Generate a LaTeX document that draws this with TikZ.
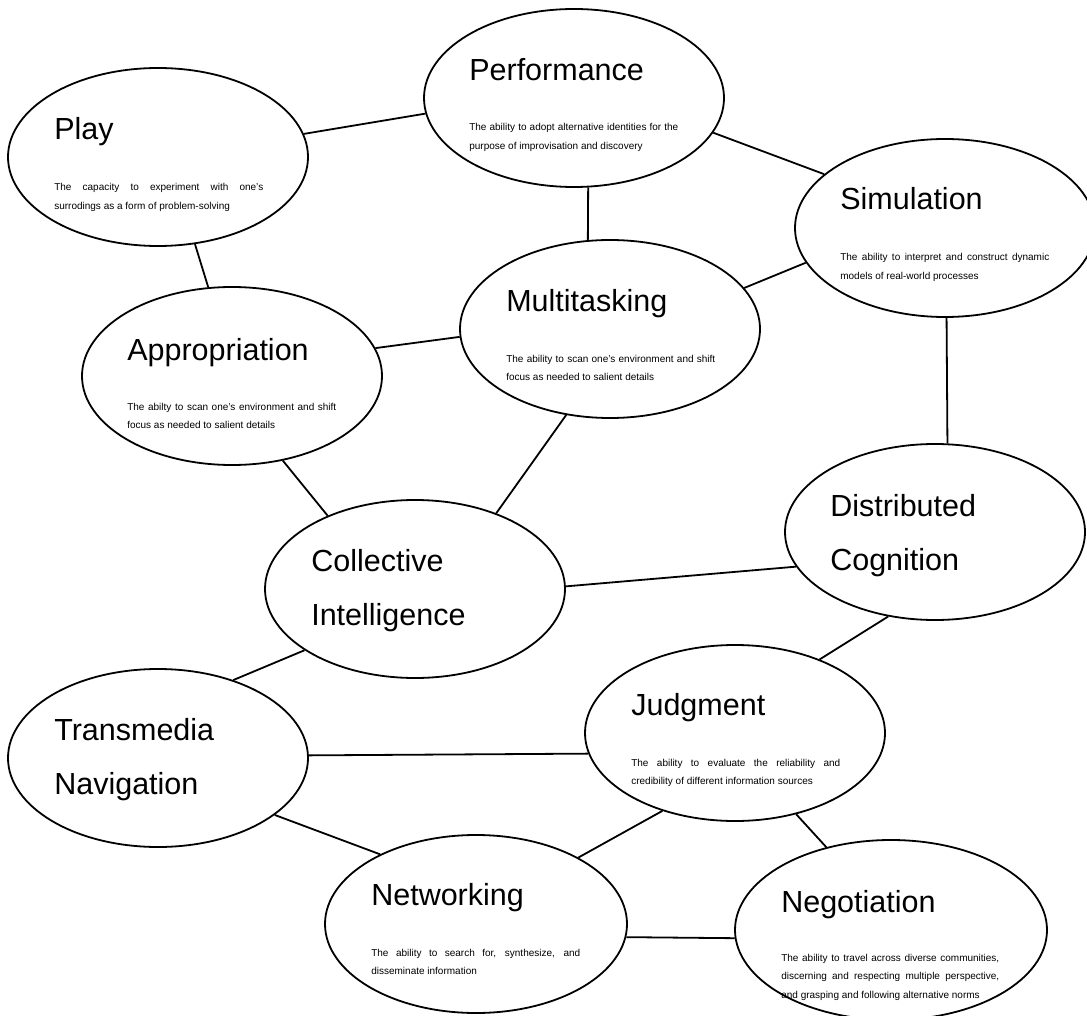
\documentclass[tikz,border=0pt]{standalone}
\usepackage{fontspec}
\setmainfont{Liberation Sans}
\usetikzlibrary{shapes,positioning}

\begin{document}
\begin{tikzpicture}[x=1pt, y=-1pt,
    skill/.style={ellipse, draw, line width=1.8pt, minimum width=300pt, minimum height=178pt, inner sep=0pt},
    head/.style={anchor=base west, inner sep=0pt, align=left, font=\fontsize{30.5}{54}\selectfont},
    blurb/.style={anchor=base west, inner sep=0pt, text width=209pt, align=justify, font=\fontsize{10}{18.5}\selectfont},
    link/.style={line width=1.8pt}]

    \useasboundingbox (0,0) rectangle (1087,1016);

    % Ellipses, one per skill
    \node[skill] (play) at (158,157) {};
    \node[skill] (perf) at (574,98) {};
    \node[skill] (sim) at (945,228) {};
    \node[skill] (appr) at (232,376) {};
    \node[skill] (multi) at (610,329) {};
    \node[skill, minimum height=176pt] (dist) at (935,532) {};
    \node[skill] (coll) at (415,589) {};
    \node[skill] (trans) at (158,758) {};
    \node[skill, minimum height=176pt] (judg) at (735,733) {};
    \node[skill, minimum width=302pt] (net) at (476,924) {};
    \node[skill, minimum width=312pt, minimum height=180pt] (nego) at (891,930) {};

    % Play
    \node[head] (play-h) at ([shift={(47,-17)}]play.west) {Play};
    \node[blurb] (play-d) at ([shift={(47,34)}]play.west) {The capacity to experiment with one's\linebreak surrodings as a form of problem-solving};

    % Performance
    \node[head] (perf-h) at ([shift={(46,-17)}]perf.west) {Performance};
    \node[blurb] (perf-d) at ([shift={(46,33)}]perf.west) {The ability to adopt alternative identities for the\linebreak purpose of improvisation and discovery};

    % Simulation
    \node[head] (sim-h) at ([shift={(46,-18)}]sim.west) {Simulation};
    \node[blurb] (sim-d) at ([shift={(46,33)}]sim.west) {The ability to interpret and construct dynamic\linebreak models of real-world processes};

    % Appropriation
    \node[head] (appr-h) at ([shift={(46,-16)}]appr.west) {Appropriation};
    \node[blurb] (appr-d) at ([shift={(46,34)}]appr.west) {The abilty to scan one's environment and shift\linebreak focus as needed to salient details};

    % Multitasking
    \node[head] (multi-h) at ([shift={(47,-17)}]multi.west) {Multitasking};
    \node[blurb] (multi-d) at ([shift={(47,33)}]multi.west) {The ability to scan one's environment and shift\linebreak focus as needed to salient details};

    % Two-line titles sit on the baseline of their second line
    % Distributed Cognition
    \node[head] (dist-h) at ([shift={(46,38)}]dist.west) {Distributed\\Cognition};

    % Collective Intelligence
    \node[head] (coll-h) at ([shift={(47,36)}]coll.west) {Collective\\Intelligence};

    % Transmedia Navigation
    \node[head] (trans-h) at ([shift={(47,36)}]trans.west) {Transmedia\\Navigation};

    % Judgment
    \node[head] (judg-h) at ([shift={(47,-18)}]judg.west) {Judgment};
    \node[blurb] (judg-d) at ([shift={(47,33)}]judg.west) {The ability to evaluate the reliability and\linebreak credibility of different information sources};

    % Networking
    \node[head] (net-h) at ([shift={(47,-19)}]net.west) {Networking};
    \node[blurb] (net-d) at ([shift={(47,32)}]net.west) {The ability to search for, synthesize, and\linebreak disseminate information};

    % Negotiation
    \node[head] (nego-h) at ([shift={(47,-18)}]nego.west) {Negotiation};
    \node[blurb, text width=218pt] (nego-d) at ([shift={(47,31)}]nego.west) {The ability to travel across diverse communities,\linebreak discerning and respecting multiple perspective,\linebreak and grasping and following alternative norms};

    % Connecting lines
    \draw[link] (play.9.5) -- (perf.186);
    \draw[link] (play.-67.6) -- (appr.105);
    \draw[link] (perf.-81.7) -- (multi.104.5);
    \draw[link] (perf.-14.1) -- (sim.156.5);
    \draw[link] (multi.17.9) -- (sim.194.4);
    \draw[link] (appr.11.8) -- (multi.183);
    \draw[link] (sim.-89.4) -- (dist.82.9);
    \draw[link] (appr.-59.3) -- (coll.140);
    \draw[link] (multi.-117) -- (coll.43.9);
    \draw[link] (coll.1.9) -- (dist.194.4);
    \draw[link] (dist.-119.6) -- (judg.41.8);
    \draw[link] (coll.-151.4) -- (trans.46);
    \draw[link] (trans.1.1) -- (judg.188);
    \draw[link] (trans.-26) -- (net.144.9);
    \draw[link] (judg.-133.2) -- (net.33.3);
    \draw[link] (judg.-53.6) -- (nego.128);
    \draw[link] (net.-5.3) -- (nego.183.7);
\end{tikzpicture}
\end{document}
